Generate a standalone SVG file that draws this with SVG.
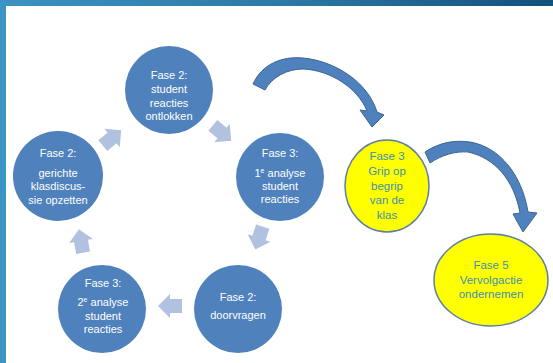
<svg xmlns="http://www.w3.org/2000/svg" width="553" height="363" viewBox="0 0 553 363">
<defs>
<linearGradient id="topbar" x1="0" y1="0" x2="1" y2="0">
<stop offset="0" stop-color="#3c92c3"/>
<stop offset="0.5" stop-color="#2c7aa8"/>
<stop offset="1" stop-color="#13507c"/>
</linearGradient>
<path id="blk" d="M-12,-7 L0,-7 L0,-12 L12,0 L0,12 L0,7 L-12,7 Z"/>
</defs>
<style>
.c{fill:#4f81bd}
.y{fill:#ffff00;stroke:#5b7ea6;stroke-width:1.5}
.t{font-family:"Liberation Sans",Arial,sans-serif;font-size:11px;fill:#ffffff;text-anchor:middle}
.ty{font-family:"Liberation Sans",Arial,sans-serif;font-size:11.5px;fill:#3f8fae;text-anchor:middle}
.la{fill:#b0c2df}
.ca{fill:#4f81bd;stroke:#3a6594;stroke-width:1}
</style>
<rect x="0" y="0" width="553" height="363" fill="#ffffff"/>
<rect x="0" y="0" width="553" height="6" fill="url(#topbar)"/>
<rect x="0" y="0" width="6" height="363" fill="#3a94c6"/>

<g id="connectors">
<use href="#blk" class="la" transform="translate(222,133) rotate(40)"/>
<use href="#blk" class="la" transform="translate(259,238) rotate(108)"/>
<use href="#blk" class="la" transform="translate(170,306) rotate(180)"/>
<use href="#blk" class="la" transform="translate(81,241) rotate(-100)"/>
<use href="#blk" class="la" transform="translate(112,138) rotate(-40)"/>
<path class="ca" d="M253,84 C262,64 282,56 303,58 C335,61 368,82 377,112 L384,115 L372,127 L360,110 L367,111 C358,88 330,70 303,69 C287,69 272,77 265,90 Z"/>
<path class="ca" d="M425,152 C440,142 455,140 470,142 C500,147 522,175 528,212 L537,213 L523,232 L513,214 L520,213 C514,180 495,158 468,152 C455,151 442,155 430,163 Z"/>
</g>

<g id="n-top">
<circle class="c" cx="169" cy="90" r="44"/>
<text class="t" x="169" y="79">Fase 2:</text>
<text class="t" x="169" y="93">student</text>
<text class="t" x="169" y="107">reacties</text>
<text class="t" x="169" y="120">ontlokken</text>
</g>
<g id="n-right">
<circle class="c" cx="280" cy="177" r="44"/>
<text class="t" x="280" y="157">Fase 3:</text>
<text class="t" x="280" y="177">1<tspan font-size="7" dy="-4">e</tspan><tspan dy="4"> analyse</tspan></text>
<text class="t" x="280" y="190">student</text>
<text class="t" x="280" y="203">reacties</text>
</g>
<g id="n-doorvragen">
<circle class="c" cx="238" cy="309" r="44"/>
<text class="t" x="238" y="301">Fase 2:</text>
<text class="t" x="238" y="319">doorvragen</text>
</g>
<g id="n-2e">
<circle class="c" cx="102" cy="309" r="44"/>
<text class="t" x="103" y="287">Fase 3:</text>
<text class="t" x="103" y="306">2<tspan font-size="7" dy="-4">e</tspan><tspan dy="4"> analyse</tspan></text>
<text class="t" x="103" y="320">student</text>
<text class="t" x="103" y="333">reacties</text>
</g>
<g id="n-left">
<circle class="c" cx="58" cy="176" r="45"/>
<text class="t" x="58" y="157">Fase 2:</text>
<text class="t" x="58" y="177">gerichte</text>
<text class="t" x="58" y="190">klasdiscus-</text>
<text class="t" x="58" y="204">sie opzetten</text>
</g>
<g id="n-grip">
<ellipse class="y" cx="387" cy="186" rx="42" ry="46"/>
<text class="ty" x="387" y="160">Fase 3</text>
<text class="ty" x="387" y="175">Grip op</text>
<text class="ty" x="387" y="190">begrip</text>
<text class="ty" x="387" y="204">van de</text>
<text class="ty" x="387" y="219">klas</text>
</g>
<g id="n-fase5">
<ellipse class="y" cx="491" cy="280" rx="57" ry="46"/>
<text class="ty" x="491" y="269">Fase 5</text>
<text class="ty" x="491" y="284">Vervolgactie</text>
<text class="ty" x="491" y="298">ondernemen</text>
</g>
</svg>
